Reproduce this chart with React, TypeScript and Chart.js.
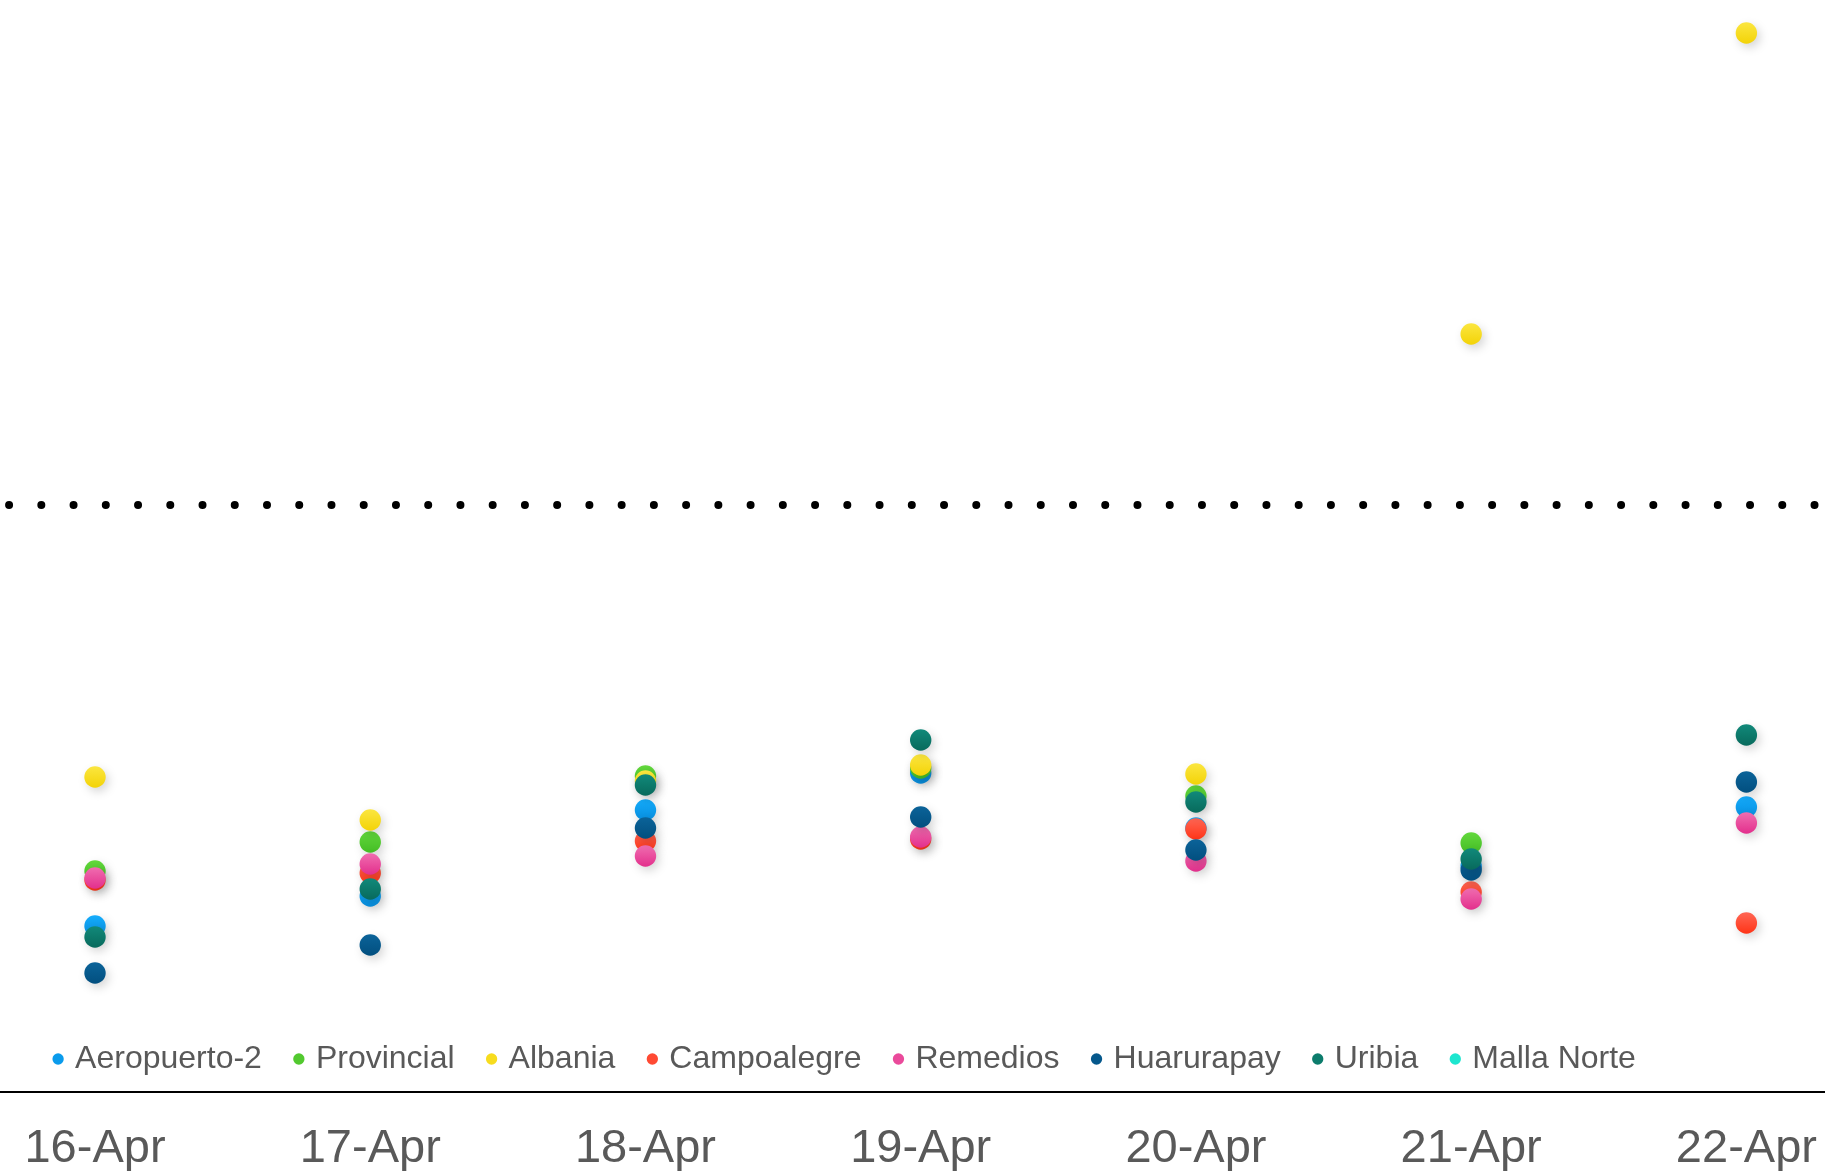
import React, { useEffect, useRef } from 'react';
import { Chart, registerables } from 'chart.js';

Chart.register(...registerables);

// ---- data ----
const categories = ['16-Apr', '17-Apr', '18-Apr', '19-Apr', '20-Apr', '21-Apr', '22-Apr'];
const stations = ['Aeropuerto-2', 'Provincial', 'Albania', 'Campoalegre', 'Remedios', 'Huarurapay', 'Uribia', 'Malla Norte'];
const aeropuerto2 = [7.9, 10.9, 19.5, 23.2, 17.7, 13.9, 19.8];
const provincial = [13.4, 16.3, 22.9, 23.7, 20.9, 16.2, null];
const albania = [22.8, 18.5, 22.4, 24.0, 23.1, 67.1, 97.2];
const campoalegre = [12.5, 13.2, 16.4, 16.6, 17.6, 11.3, 8.2];
const remedios = [12.7, 14.1, 14.9, 16.8, 14.4, 10.6, 18.2];
const huarurapay = [3.2, 6.0, 17.7, 18.8, 15.5, 13.5, 22.3];
const uribia = [6.8, 11.6, 22.0, 26.5, 20.3, 14.6, 27.0];
const mallaNorte = [null, null, null, null, null, null, null];
const thresholdValues = [50];

const seriesValues = [aeropuerto2, provincial, albania, campoalegre, remedios, huarurapay, uribia, mallaNorte];

// ---- styles ----
const baseColors = ['#0a9bec', '#52c92f', '#f7dc1e', '#ff4a33', '#ea4a9b', '#05588c', '#0c7c6c', '#1de6cf'];
const topColors = ['#14acfc', '#62d83c', '#fbe640', '#ff6654', '#f06db0', '#0b6399', '#11897a', '#3ef0da'];
const bottomColors = ['#078ddd', '#44bd25', '#f3d307', '#ff3417', '#e32f8c', '#024f7f', '#086a5c', '#12d8c2'];
const FONT = "'Liberation Sans', Arial, Helvetica, sans-serif";
const POINT_R = 10.7;

export default function App() {
  const ref = useRef<HTMLCanvasElement | null>(null);

  useEffect(() => {
    const canvas = ref.current;
    if (!canvas) return;

    const decor = {
      id: 'decor',
      beforeDatasetsDraw(chart: any) {
        const { ctx, chartArea, scales } = chart;
        const y = scales.y.getPixelForValue(thresholdValues[0]);
        ctx.save();
        ctx.beginPath();
        ctx.setLineDash([0, 32.24]);
        ctx.lineDashOffset = 12.8;
        ctx.lineCap = 'round';
        ctx.lineWidth = 8;
        ctx.strokeStyle = '#000000';
        ctx.moveTo(chartArea.left, y);
        ctx.lineTo(chartArea.right, y);
        ctx.stroke();
        ctx.restore();
        ctx.save();
        ctx.shadowColor = 'rgba(0,0,0,0.16)';
        ctx.shadowBlur = 10;
        ctx.shadowOffsetX = 3;
        ctx.shadowOffsetY = 4;
      },
      afterDatasetsDraw(chart: any) {
        chart.ctx.restore();
      },
    };

    const datasets = stations.map((name, i) => ({
      label: name,
      data: seriesValues[i],
      showLine: false,
      order: stations.length - i,
      clip: false as any,
      pointStyle: 'circle',
      pointRadius: POINT_R,
      pointHoverRadius: POINT_R,
      pointBorderWidth: 0,
      borderWidth: 0,
      borderColor: baseColors[i],
      backgroundColor: (c: any) => {
        const chart = c.chart;
        const ys = chart && chart.scales ? chart.scales.y : null;
        if (!ys || !c.parsed || c.parsed.y == null || !isFinite(c.parsed.y)) return baseColors[i];
        const py = ys.getPixelForValue(c.parsed.y);
        if (!isFinite(py)) return baseColors[i];
        const g = chart.ctx.createLinearGradient(0, py - POINT_R, 0, py + POINT_R);
        g.addColorStop(0, topColors[i]);
        g.addColorStop(1, bottomColors[i]);
        return g;
      },
    }));

    const chart = new Chart(canvas, {
      type: 'line',
      data: { labels: categories, datasets: datasets as any },
      options: {
        animation: false,
        responsive: false,
        devicePixelRatio: 1,
        events: [],
        layout: { padding: 0, autoPadding: false },
        scales: {
          x: {
            type: 'category',
            position: 'bottom',
            offset: true,
            weight: 2000,
            grid: { display: false, drawTicks: false },
            border: { display: true, color: '#000000', width: 2 },
            ticks: {
              color: '#595959',
              font: { size: 47, family: FONT, lineHeight: 1.2 },
              padding: 28.8,
              maxRotation: 0,
              autoSkip: false,
            },
          },
          y: {
            display: true,
            min: -0.2,
            max: 100.5,
            grid: { display: false, drawTicks: false },
            border: { display: false },
            ticks: { display: false },
            afterFit: (s: any) => {
              s.width = 148.4;
            },
          },
        },
        plugins: {
          tooltip: { enabled: false },
          title: { display: false },
          subtitle: {
            display: true,
            text: '',
            position: 'bottom',
            weight: 1500,
            padding: 0,
            font: { size: 7, lineHeight: 1 },
          } as any,
          legend: {
            display: true,
            position: 'bottom',
            align: 'center',
            labels: {
              color: '#595959',
              font: { size: 32, family: FONT },
              usePointStyle: true,
              boxWidth: 2,
              boxHeight: 8,
              padding: 36,
              sort: (a: any, b: any) => a.datasetIndex - b.datasetIndex,
              generateLabels: (ch: any) => {
                const items = (Chart.defaults.plugins.legend.labels as any).generateLabels(ch);
                return items.map((it: any) => ({
                  ...it,
                  fillStyle: baseColors[it.datasetIndex],
                  strokeStyle: baseColors[it.datasetIndex],
                  lineWidth: 0,
                  pointStyle: 'circle',
                }));
              },
            },
          },
        },
      },
      plugins: [decor],
    });

    return () => {
      chart.destroy();
    };
  }, []);

  return (
    <div
      style={{
        position: 'fixed',
        left: 0,
        top: 0,
        width: 1825,
        height: 1171,
        overflow: 'hidden',
        background: '#ffffff',
      }}
    >
      <canvas
        ref={ref}
        width={2075}
        height={1206}
        style={{ position: 'absolute', left: -191, top: 0, width: 2075, height: 1206 }}
      />
    </div>
  );
}
